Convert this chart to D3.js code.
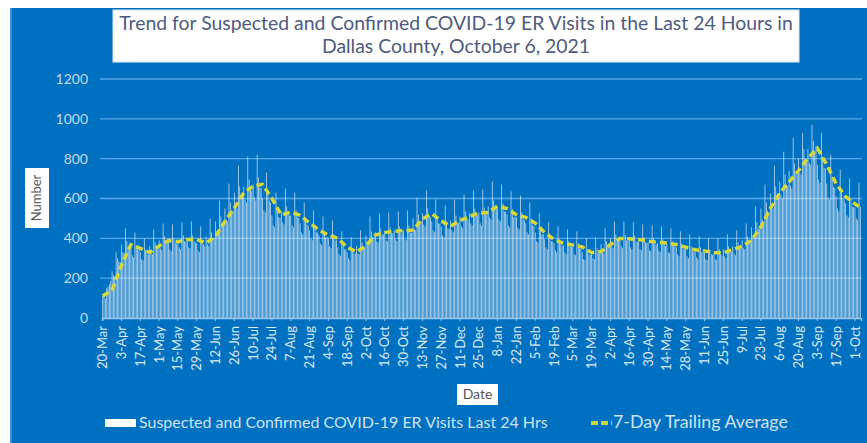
<!DOCTYPE html>
<html>
<head>
<meta charset="utf-8">
<script src="https://cdn.jsdelivr.net/npm/d3@7"></script>
<style>
  body { margin: 0; background: #ffffff; }
  text { font-family: Lato, "Open Sans", sans-serif; }
</style>
</head>
<body>
<svg id="graph" width="867" height="443"></svg>
<script>
// visites journalieres, une ligne = une semaine (a partir du vendredi 20-Mar-2020)
const visites = [
  110,105,98,150,160,170,185,
  235,215,210,330,300,285,280,
  370,330,325,450,385,360,355,
  350,315,305,430,365,345,340,
  330,295,290,400,345,325,318,
  360,325,320,445,380,355,349,
  390,350,340,475,410,380,378,
  385,345,335,470,400,375,371,
  395,355,345,480,415,385,383,
  395,355,350,485,415,385,380,
  375,340,330,460,395,370,362,
  410,370,360,500,430,400,400,
  485,435,425,590,510,475,475,
  550,495,485,675,580,540,539,
  630,565,550,765,660,615,611,
  660,595,580,810,695,650,639,
  670,605,590,820,705,655,652,
  600,540,530,730,630,590,580,
  515,465,455,630,545,505,504,
  530,480,470,650,560,520,514,
  515,465,455,630,540,505,502,
  475,430,420,580,500,470,464,
  440,400,390,540,465,430,429,
  415,375,365,510,435,405,407,
  400,360,350,490,420,390,390,
  355,320,310,435,375,345,345,
  330,300,290,405,350,325,324,
  360,325,320,440,380,355,354,
  415,375,365,510,435,405,407,
  430,385,380,525,450,420,420,
  435,390,385,530,455,425,425,
  440,395,385,535,460,425,426,
  440,395,390,540,465,430,427,
  500,450,440,605,520,485,484,
  525,470,460,640,550,510,506,
  485,440,430,595,510,475,474,
  460,415,405,565,485,450,447,
  490,440,430,595,515,475,478,
  510,460,450,620,535,500,495,
  525,475,465,640,550,515,512,
  530,475,465,645,555,520,520,
  560,505,495,685,590,550,549,
  550,495,485,670,575,535,533,
  520,465,455,635,545,505,508,
  505,455,445,615,530,495,490,
  475,430,420,580,500,465,462,
  430,385,380,525,450,420,420,
  395,355,345,480,415,385,383,
  375,340,330,460,395,370,362,
  365,330,320,445,385,360,357,
  355,320,315,435,375,350,349,
  330,295,290,400,345,320,316,
  335,300,295,405,350,325,328,
  370,330,325,450,385,360,363,
  400,360,350,485,420,390,388,
  400,360,350,485,415,390,386,
  395,355,345,480,415,385,383,
  385,345,340,470,405,380,377,
  380,340,335,465,400,370,370,
  375,340,330,460,395,370,362,
  370,330,325,450,385,360,363,
  355,320,310,435,375,345,345,
  345,310,300,420,360,335,331,
  335,305,295,410,355,330,329,
  330,295,290,400,345,320,316,
  325,295,290,400,345,320,314,
  345,310,300,420,360,335,331,
  360,325,315,440,380,350,350,
  390,350,345,475,410,380,380,
  455,410,405,560,480,450,446,
  550,495,485,670,580,540,530,
  625,565,550,765,660,615,609,
  685,615,600,835,720,670,663,
  740,665,650,905,775,725,720,
  800,730,720,930,850,795,789,
  850,780,770,970,890,840,864,
  770,695,680,930,810,755,750,
  675,605,595,820,710,660,653,
  610,550,535,745,640,600,590,
  575,515,505,700,600,560,556,
  555,500,490,680,560
];

// moyenne sur 7 jours lue tous les 7 jours (jour 0, 7, 14 ... 560) + dernier jour
const moyenne_7j = [
  110,140,265,368,350,329,362,389,383,394,
  395,376,410,485,552,628,662,671,600,517,
  532,516,477,442,416,400,355,332,362,416,
  430,435,438,441,498,523,487,461,489,510,
  526,530,562,549,519,505,476,430,394,376,
  366,357,328,334,369,399,398,394,386,380,
  376,369,355,343,337,328,327,343,360,390,
  458,550,627,684,740,802,852,770,674,610,
  573,555
];

const etiquettes_x = ["20-Mar","3-Apr","17-Apr","1-May","15-May","29-May","12-Jun","26-Jun",
  "10-Jul","24-Jul","7-Aug","21-Aug","4-Sep","18-Sep","2-Oct","16-Oct","30-Oct","13-Nov",
  "27-Nov","11-Dec","25-Dec","8-Jan","22-Jan","5-Feb","19-Feb","5-Mar","19-Mar","2-Apr",
  "16-Apr","30-Apr","14-May","28-May","11-Jun","25-Jun","9-Jul","23-Jul","6-Aug","20-Aug",
  "3-Sep","17-Sep","1-Oct"];

const graduations_y = [0, 200, 400, 600, 800, 1000, 1200];

const titre = ["Trend for Suspected and Confirmed COVID-19 ER Visits in the Last 24 Hours in",
  "Dallas County, October 6, 2021"];
const legende_barres = "Suspected and Confirmed COVID-19 ER Visits Last 24 Hrs";
const legende_ligne = "7-Day Trailing Average";

const svg = d3.select("#graph");

// ajuste la taille de police pour que le texte fasse la largeur voulue
function ajuster(sel, largeur) {
  const l = sel.node().getComputedTextLength();
  const fs = parseFloat(sel.style("font-size"));
  sel.style("font-size", (fs * largeur / l) + "px");
  return fs * largeur / l;
}

// fond bleu
svg.append("rect")
  .attr("x", 10).attr("y", 8)
  .attr("width", 857).attr("height", 435)
  .attr("fill", "#0070c0");
svg.append("line")
  .attr("x1", 11).attr("x2", 11).attr("y1", 8).attr("y2", 443)
  .attr("stroke", "#3d8fd6").attr("stroke-width", 2);

const x = d3.scaleBand()
  .domain(d3.range(visites.length))
  .range([102, 861])
  .padding(0);

const y = d3.scaleLinear()
  .domain([0, 1200])
  .range([318, 79]);

// lignes de grille
svg.append("g")
  .selectAll("line")
  .data(graduations_y.filter(d => d > 0))
  .join("line")
  .attr("x1", 100).attr("x2", 862)
  .attr("y1", d => y(d)).attr("y2", d => y(d))
  .attr("stroke", "#5aa6e6")
  .attr("stroke-width", 1.4);

// axe y (etiquettes seulement)
const axeY = svg.append("g")
  .attr("transform", "translate(90,0)")
  .call(d3.axisLeft(y).tickValues(graduations_y).tickFormat(d3.format("d")).tickSize(0).tickPadding(2));
axeY.select(".domain").remove();
axeY.selectAll("text")
  .attr("fill", "#c4d9ef")
  .style("font-size", "14px")
  .style("font-family", "Lato, sans-serif");

// barres journalieres
svg.append("g")
  .selectAll("rect")
  .data(visites)
  .join("rect")
  .attr("x", (d, i) => x(i) + x.bandwidth() * 0.2)
  .attr("width", x.bandwidth() * 0.6)
  .attr("y", d => y(d))
  .attr("height", d => y(0) - y(d))
  .attr("fill", "#ffffff")
  .attr("fill-opacity", 0.72);

// axe x
const axeX = svg.append("g")
  .attr("transform", "translate(0,318)")
  .call(d3.axisBottom(x)
    .tickValues(d3.range(0, visites.length, 14))
    .tickFormat(d => etiquettes_x[d / 14])
    .tickSize(3));
axeX.select(".domain").attr("stroke", "#9cc8f0").attr("stroke-width", 1.5);
axeX.selectAll(".tick line").attr("stroke", "#9cc8f0");
axeX.selectAll("text")
  .attr("transform", "rotate(-90)")
  .attr("x", -8).attr("y", 0).attr("dy", "0.35em")
  .style("text-anchor", "end")
  .attr("fill", "#dbe9f7")
  .style("font-size", "13px")
  .style("font-family", "Lato, sans-serif");

// moyenne sur 7 jours
const jours_moyenne = moyenne_7j.map((d, i) => i < moyenne_7j.length - 1 ? i * 7 : visites.length - 1);
const ligne = d3.line()
  .x((d, i) => x(jours_moyenne[i]) + x.bandwidth() / 2)
  .y(d => y(d));

svg.append("path")
  .datum(moyenne_7j)
  .attr("d", ligne)
  .attr("fill", "none")
  .attr("stroke", "#d6d83a")
  .attr("stroke-width", 3.5)
  .attr("stroke-dasharray", "7,4");

// titre dans une boite blanche
svg.append("rect")
  .attr("x", 113).attr("y", 10)
  .attr("width", 686).attr("height", 52)
  .attr("fill", "#ffffff")
  .attr("stroke", "#dfe8f2");
const t1 = svg.append("text")
  .attr("x", 456).attr("y", 30)
  .attr("text-anchor", "middle")
  .attr("fill", "#4e5b7e")
  .style("font-size", "17px")
  .text(titre[0]);
const fsTitre = ajuster(t1, 674);
svg.append("text")
  .attr("x", 456).attr("y", 53)
  .attr("text-anchor", "middle")
  .attr("fill", "#4e5b7e")
  .style("font-size", fsTitre + "px")
  .text(titre[1]);

// titre axe y
svg.append("rect")
  .attr("x", 25).attr("y", 168)
  .attr("width", 24).attr("height", 60)
  .attr("fill", "#ffffff");
svg.append("text")
  .attr("transform", "translate(41,198) rotate(-90)")
  .attr("text-anchor", "middle")
  .attr("fill", "#555555")
  .style("font-size", "13px")
  .text("Number");

// titre axe x
svg.append("rect")
  .attr("x", 457).attr("y", 384)
  .attr("width", 41).attr("height", 21)
  .attr("fill", "#ffffff");
svg.append("text")
  .attr("x", 477.5).attr("y", 399)
  .attr("text-anchor", "middle")
  .attr("fill", "#555555")
  .style("font-size", "14px")
  .text("Date");

// legende
svg.append("rect")
  .attr("x", 105).attr("y", 419)
  .attr("width", 31).attr("height", 8)
  .attr("fill", "#ffffff");
const l1 = svg.append("text")
  .attr("x", 139).attr("y", 428)
  .attr("fill", "#cfe2f6")
  .style("font-size", "14px")
  .text(legende_barres);
ajuster(l1, 409);

svg.append("line")
  .attr("x1", 591).attr("x2", 612)
  .attr("y1", 423).attr("y2", 423)
  .attr("stroke", "#c6d83a")
  .attr("stroke-width", 4)
  .attr("stroke-dasharray", "7,3");
const l2 = svg.append("text")
  .attr("x", 613).attr("y", 428)
  .attr("fill", "#cfe2f6")
  .style("font-size", "14px")
  .text(legende_ligne);
ajuster(l2, 175);
</script>
</body>
</html>
